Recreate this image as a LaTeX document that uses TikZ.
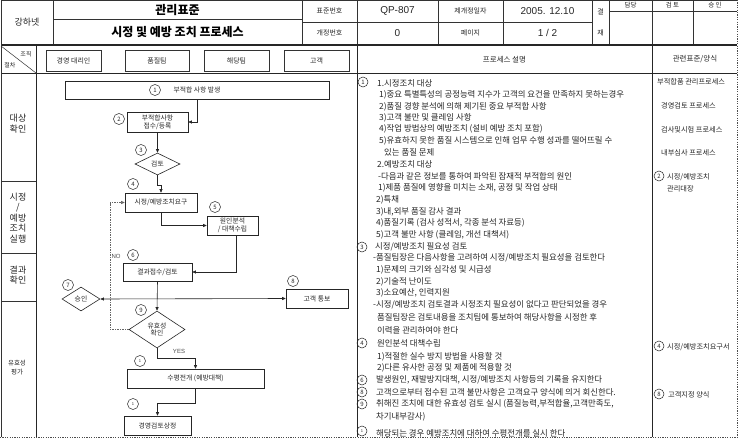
\documentclass[tikz,border=0pt]{standalone}
\usepackage{fontspec}
\setmainfont{Noto Sans CJK KR}
\newfontfamily\lat{Liberation Sans}
\usetikzlibrary{shapes.geometric,arrows.meta}
\begin{document}
\begin{tikzpicture}[x=1pt,y=-1pt,
  every node/.style={inner sep=0pt, text=black!85},
  grid/.style={draw=black!80, line width=0.5pt},
  heavy/.style={draw=black!85, line width=1pt},
  border/.style={draw=black!70, line width=0.6pt, dash pattern=on 1.2pt off 1.2pt},
  box/.style={draw=black!85, line width=0.6pt, fill=white, align=center, font=\fontsize{6.8}{7.8}\selectfont},
  dia/.style={draw=black!85, line width=0.6pt, diamond, fill=white, align=center, font=\fontsize{6.8}{7.8}\selectfont},
  lanebox/.style={draw=black!80, line width=0.8pt, minimum height=21pt, font=\fontsize{7}{8}\selectfont},
  numc/.style={circle, draw=black!85, line width=0.5pt, minimum size=11pt, font=\fontsize{6}{6}\selectfont},
  dnum/.style={circle, draw=black!85, line width=0.5pt, minimum size=10pt, font=\fontsize{6}{6}\selectfont},
  arr/.style={draw=black!85, line width=0.6pt, -{Triangle[length=3.5pt,width=3pt]}},
  darr/.style={draw=black!85, line width=0.6pt, {Triangle[length=3.5pt,width=3pt]}-{Triangle[length=3.5pt,width=3pt]}},
  noarr/.style={draw=black!60, line width=0.5pt, dash pattern=on 1.5pt off 1pt, -{Triangle[length=3.5pt,width=3pt]}},
  desc/.style={anchor=west, font=\fontsize{8.4}{9}\selectfont},
  rel/.style={anchor=west, font=\fontsize{7.2}{8}\selectfont},
  hsmall/.style={font=\fontsize{7}{8}\selectfont},
  hval/.style={font=\lat\fontsize{10}{11}\selectfont},
  title/.style={font=\bfseries\fontsize{12}{13}\selectfont, text=black},
  lanelbl/.style={align=center, font=\fontsize{9}{10.5}\selectfont},
  flowlbl/.style={font=\lat\fontsize{6}{6}\selectfont, text=black!70}
]
\useasboundingbox (0,0) rectangle (740,439);
\fill[white] (0,0) rectangle (740,439);

% ---------- header grid ----------
\draw[grid] (1,0.5) -- (737,0.5);
\foreach \xx in {53,302,357,438,503,592,609,652,693} \draw[grid] (\xx,0) -- (\xx,45);
\draw[grid] (53,19) -- (302,19);
\draw[grid] (302,22) -- (592,22);
\draw[grid] (609,11) -- (737,11);
\draw[draw=black!85, line width=1.4pt] (1,45) -- (737,45);
\draw[heavy] (1,73) -- (737,73);
% body verticals
\draw[grid] (1,0) -- (1,437);
\draw[draw=black!85, line width=0.8pt] (36,45) -- (36,437);
\draw[heavy] (357,45) -- (357,437);
\draw[heavy] (652,45) -- (652,437);
\draw[grid] (1,181) -- (36,181);
\draw[grid] (1,253) -- (36,253);
\draw[grid] (1,301) -- (36,301);
\draw[grid] (1,46) -- (36,73);
% page border
\draw[border] (737,0) -- (737,437.5);
\draw[border] (0,437.5) -- (737,437.5);

% ---------- header texts ----------
\node[font=\fontsize{9}{10}\selectfont] (hco) at (27,22) {강하넷};
\node[title] (ht1) at (177.5,10) {관리표준};
\node[title] (ht2) at (177.5,32) {시정 및 예방 조치 프로세스};
\node[hsmall] (hk1) at (329.5,11) {표준번호};
\node[hsmall] (hk2) at (329.5,33) {개정번호};
\node[hval] (hv1) at (397.5,11) {QP-807};
\node[hval] (hv2) at (397.5,33) {0};
\node[hsmall] (hk3) at (470.5,11) {제개정일자};
\node[hsmall] (hk4) at (470.5,33) {페이지};
\node[hval] (hv3) at (547.5,11) {2005. 12.10};
\node[hval] (hv4) at (547.5,33) {1 / 2};
\node[hsmall] (hg1) at (600.5,11.5) {결};
\node[hsmall] (hg2) at (600.5,33) {재};
\node[font=\fontsize{6.5}{7}\selectfont] (ha1) at (630.5,5.5) {담당};
\node[font=\fontsize{6.5}{7}\selectfont] (ha2) at (672.5,5.5) {검 토};
\node[font=\fontsize{6.5}{7}\selectfont] (ha3) at (715,5.5) {승 인};

% ---------- lane header ----------
\node[font=\fontsize{6}{6}\selectfont] (hz1) at (26,54) {조직};
\node[font=\fontsize{6}{6}\selectfont] (hz2) at (10,65) {절차};
\node[lanebox, minimum width=55pt] (L1) at (73.5,60.5) {경영 대리인};
\node[lanebox, minimum width=64pt] (L2) at (157,60.5) {품질팀};
\node[lanebox, minimum width=65pt] (L3) at (236.5,60.5) {해당팀};
\node[lanebox, minimum width=65pt] (L4) at (316.5,60.5) {고객};
\node[font=\fontsize{7.5}{8}\selectfont] (hp) at (504.5,59.5) {프로세스 설명};
\node[font=\fontsize{7.5}{8}\selectfont] (hr) at (695,59.5) {관련표준/양식};

% ---------- lane labels ----------
\node[lanelbl] (ll1) at (18,123.5) {대상\\확인};
\node[lanelbl] (ll2) at (18,218) {시정\\/\\예방\\조치\\실행};
\node[lanelbl] (ll3) at (18,275) {결과\\확인};
\node[lanelbl, font=\fontsize{6.5}{8.5}\selectfont] (ll4) at (17,367.5) {유효성\\평가};

% ---------- flowchart ----------
\node[box, minimum width=264pt, minimum height=18pt] (n1) at (197,90) {부적합 사항 발생};
\node[box, minimum width=61pt, minimum height=20pt] (n2) at (157.5,122) {부적합사항\\접수/등록};
\node[dia, minimum width=45pt, minimum height=22pt] (n3) at (157.5,164) {검토};
\node[box, minimum width=72pt, minimum height=19pt] (n4) at (161,202.5) {시정/예방조치요구};
\node[box, minimum width=51pt, minimum height=19pt] (n5) at (232.5,225.5) {원인분석\\/ 대책수립};
\node[box, minimum width=69pt, minimum height=18pt] (n6) at (157.5,272) {결과접수/검토};
\node[dia, minimum width=38pt, minimum height=24pt] (n7) at (81,299) {승인};
\node[box, minimum width=62pt, minimum height=19pt] (n8) at (317,298.5) {고객 통보};
\node[dia, minimum width=56pt, minimum height=37pt] (n9) at (157,329.5) {유효성\\확인};
\node[box, minimum width=137pt, minimum height=19pt] (n10) at (195.5,378.5) {수평전개 (예방대책)};
\node[box, minimum width=67pt, minimum height=19pt] (n11) at (157.5,425.5) {경영검토상정};

\node[numc] (c1) at (155,90) {1};
\node[numc] (c2) at (119,119) {2};
\node[numc] (c3) at (141,150) {3};
\node[numc] (c4) at (133,184) {4};
\node[numc] (c5) at (215,207) {5};
\node[numc] (c6) at (133,255) {6};
\node[numc] (c7) at (68,285) {7};
\node[numc] (c8) at (293,281) {8};
\node[numc] (c9) at (141,310) {9};
\node[numc, font=\fontsize{4}{4}\selectfont] (c10) at (140,361) {1};
\node[numc, font=\fontsize{4}{4}\selectfont] (c11) at (133,404) {1};

\draw[arr] (n1.south) |- (n2.east);
\draw[arr] (n2.south) -- (n3.north);
\draw[arr] (n3.south) -- ++(0,10) -| (n4.north);
\draw[arr] (n4.south) |- (n5.west);
\draw[arr] ([xshift=4pt]n5.south) |- (n6.east);
\draw[arr] (n6.south) -- (n9.north);
\draw[darr] (n7.east) -- (n8.west);
\coordinate (nob) at (110,329.5);
\draw[noarr] (n9.west) -- (nob) |- (n4.west);
\draw[arr] (n9.south) -- ++(0,10) -| (n10.north);
\draw[arr] (n10.south) -- ++(0,15) -| (n11.north);
\node[flowlbl] (lno) at (116,256) {NO};
\node[flowlbl] (lyes) at (179,351) {YES};

% ---------- process description ----------
\node[dnum] (e1) at (363,82) {1};
\node[desc] (d1) at (377,83) {1.시정조치 대상};
\node[desc] (d2) at (379,95) {1)중요 특별특성의 공정능력 지수가 고객의 요건을 만족하지 못하는경우};
\node[desc] (d3) at (379,107) {2)품질 경향 분석에 의해 제기된 중요 부적합 사항};
\node[desc] (d4) at (379,118) {3)고객 불만 및 클레임 사항};
\node[desc] (d5) at (379,129) {4)작업 방법상의 예방조치 (설비 예방 조치 포함)};
\node[desc] (d6) at (379,141) {5)유효하지 못한 품질 시스템으로 인해 업무 수행 성과를 떨어뜨릴 수};
\node[desc] (d7) at (384,152) {있는 품질 문제};
\node[desc] (d8) at (377,164) {2.예방조치 대상};
\node[desc] (d9) at (378,176) {-다음과 같은 정보를 통하여 파악된 잠재적 부적합의 원인};
\node[desc] (d10) at (378,188) {1)제품 품질에 영향을 미치는 소재, 공정 및 작업 상태};
\node[desc] (d11) at (376,200) {2)특채};
\node[desc] (d12) at (376,212) {3)내,외부 품질 감사 결과};
\node[desc] (d13) at (376,223) {4)품질기록 (검사 성적서, 각종 분석 자료등)};
\node[desc] (d14) at (376,235) {5)고객 불만 사항 (클레임, 개선 대책서)};
\node[dnum] (e3) at (362,247) {3};
\node[desc] (d15) at (375,247) {시정/예방조치 필요성 검토};
\node[desc] (d16) at (373,258) {-품질팀장은 다음사항을 고려하여 시정/예방조치 필요성을 검토한다};
\node[desc] (d17) at (376,270) {1)문제의 크기와 심각성 및 시급성};
\node[desc] (d18) at (376,282) {2)기술적 난이도};
\node[desc] (d19) at (376,293) {3)소요예산, 인력지원};
\node[desc] (d20) at (373,305) {-시정/예방조치 검토결과 시정조치 필요성이 없다고 판단되었을 경우};
\node[desc] (d21) at (377,317) {품질팀장은 검토내용을 조치팀에 통보하여 해당사항을 시정한 후};
\node[desc] (d22) at (377,330) {이력을 관리하여야 한다};
\node[dnum] (e4) at (362,343) {4};
\node[desc] (d23) at (377,343) {원인분석 대책수립};
\node[desc] (d24) at (377,357) {1)적절한 실수 방지 방법을 사용할 것};
\node[desc] (d25) at (377,368) {2)다른 유사한 공정 및 제품에 적용할 것};
\node[dnum] (e6) at (362,380) {6};
\node[desc] (d26) at (376,380) {발생원인, 재발방지대책, 시정/예방조치 사항등의 기록을 유지한다};
\node[dnum] (e8) at (362,392) {8};
\node[desc] (d27) at (376,392) {고객으로부터 접수된 고객 불만사항은 고객요구 양식에 의거 회신한다.};
\node[dnum] (e9) at (362,404) {9};
\node[desc] (d28) at (376,404) {취해진 조치에 대한 유효성 검토 실시 (품질능력,부적합율,고객만족도,};
\node[desc] (d29) at (376,417) {차기내부감사)};
\node[dnum, font=\fontsize{4}{4}\selectfont] (e10) at (362,431) {1};
\node[desc] (d30) at (376,433) {해당되는 경우 예방조치에 대하여 수평전개를 실시 한다};

% ---------- related standards ----------
\node[rel] (r1) at (657,82) {부적합품 관리프로세스};
\node[rel] (r2) at (661,106) {경영검토 프로세스};
\node[rel] (r3) at (661,130) {검사및시험 프로세스};
\node[rel] (r4) at (661,153) {내부심사 프로세스};
\node[dnum] (f2) at (659,176) {2};
\node[rel] (r5) at (667,177) {시정/예방조치};
\node[rel] (r6) at (667,189) {관리대장};
\node[dnum] (f4) at (659,346) {4};
\node[rel] (r7) at (667,347) {시정/예방조치요구서};
\node[dnum] (f8) at (659,394) {8};
\node[rel] (r8) at (668,395) {고객지정 양식};
\end{tikzpicture}
\end{document}
